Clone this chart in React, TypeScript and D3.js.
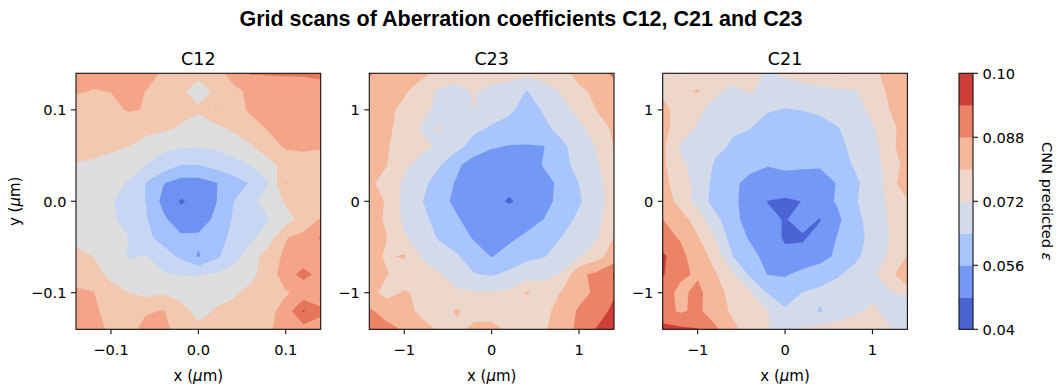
import React from 'react';
import * as d3 from 'd3';

const WIDTH = 1058;
const HEIGHT = 387;
const N = 15;

// ---- data (rows listed from top, y = +max, to bottom, y = -max; columns from x = -max to +max) ----
const c12Values: number[][] = [
  [0.0815, 0.0815, 0.0820, 0.0825, 0.08525, 0.0780, 0.0770, 0.0765, 0.0770, 0.0830, 0.0853, 0.0854, 0.0856, 0.0856, 0.0860],
  [0.0805, 0.07975, 0.0801, 0.0815, 0.0799, 0.0765, 0.0760, 0.0725, 0.0760, 0.0780, 0.0815, 0.0820, 0.0820, 0.0825, 0.0830],
  [0.0770, 0.0775, 0.0785, 0.0805, 0.07975, 0.0765, 0.0765, 0.0760, 0.08025, 0.0775, 0.0810, 0.0810, 0.0815, 0.0815, 0.0820],
  [0.0765, 0.0765, 0.0765, 0.0760, 0.0765, 0.0760, 0.0745, 0.0715, 0.0735, 0.0760, 0.0775, 0.0805, 0.0810, 0.0815, 0.0815],
  [0.0765, 0.0760, 0.0755, 0.0751, 0.0730, 0.0710, 0.0705, 0.07025, 0.07075, 0.0720, 0.0745, 0.0775, 0.08075, 0.0810, 0.0805],
  [0.07475, 0.0745, 0.0740, 0.0715, 0.0701, 0.0680, 0.0651, 0.0651, 0.0670, 0.0685, 0.0701, 0.0735, 0.0765, 0.0775, 0.0775],
  [0.0725, 0.0720, 0.0710, 0.06975, 0.06475, 0.06025, 0.0580, 0.0580, 0.05975, 0.0625, 0.0655, 0.06975, 0.08025, 0.0770, 0.0765],
  [0.0720, 0.0715, 0.0705, 0.0680, 0.0649, 0.0585, 0.0545, 0.0565, 0.05975, 0.0649, 0.0685, 0.0725, 0.0755, 0.0760, 0.0760],
  [0.0715, 0.0710, 0.0705, 0.0690, 0.0655, 0.0610, 0.0570, 0.0575, 0.0610, 0.0655, 0.0680, 0.06975, 0.0730, 0.0770, 0.0805],
  [0.0735, 0.0715, 0.0710, 0.0701, 0.0665, 0.0630, 0.0610, 0.0610, 0.0625, 0.0665, 0.0690, 0.0725, 0.07975, 0.0815, 0.0855],
  [0.0765, 0.0749, 0.0730, 0.0695, 0.07025, 0.0675, 0.0640, 0.0595, 0.0640, 0.0680, 0.0725, 0.0775, 0.0810, 0.0820, 0.0825],
  [0.0775, 0.0765, 0.0740, 0.0720, 0.0710, 0.0705, 0.06975, 0.06975, 0.0705, 0.0720, 0.0740, 0.0770, 0.0830, 0.0865, 0.0835],
  [0.0810, 0.08025, 0.0765, 0.0751, 0.0735, 0.0745, 0.0730, 0.0720, 0.0730, 0.0745, 0.0760, 0.0775, 0.0795, 0.0815, 0.0820],
  [0.0820, 0.0810, 0.0780, 0.0770, 0.0795, 0.08025, 0.0770, 0.0730, 0.0755, 0.0760, 0.0770, 0.0785, 0.0820, 0.0905, 0.0860],
  [0.0825, 0.0820, 0.0790, 0.0785, 0.0815, 0.0810, 0.0785, 0.0765, 0.0765, 0.0770, 0.0780, 0.0795, 0.0815, 0.0830, 0.0830],
];

const c23Values: number[][] = [
  [0.0892, 0.0840, 0.0824, 0.0816, 0.0784, 0.0760, 0.0752, 0.0768, 0.0752, 0.0744, 0.0760, 0.0776, 0.0824, 0.0848, 0.0898],
  [0.0832, 0.0824, 0.0808, 0.0768, 0.0704, 0.0688, 0.0728, 0.0688, 0.0680, 0.0636, 0.0680, 0.0728, 0.0784, 0.0816, 0.0840],
  [0.0824, 0.0816, 0.0784, 0.0744, 0.0696, 0.0680, 0.07216, 0.0672, 0.0656, 0.0608, 0.0648, 0.0688, 0.0744, 0.08016, 0.0824],
  [0.0824, 0.0816, 0.0768, 0.0712, 0.0724, 0.0688, 0.0656, 0.0632, 0.0608, 0.0592, 0.0624, 0.0664, 0.0704, 0.0752, 0.0816],
  [0.0816, 0.0808, 0.0760, 0.0744, 0.0704, 0.0664, 0.0608, 0.0568, 0.0556, 0.0556, 0.05584, 0.0624, 0.0672, 0.0724, 0.0804],
  [0.0808, 0.08016, 0.0736, 0.0688, 0.0648, 0.0576, 0.0520, 0.0512, 0.0504, 0.0512, 0.0568, 0.0608, 0.0672, 0.0712, 0.0792],
  [0.0808, 0.0784, 0.0704, 0.0664, 0.0600, 0.0552, 0.0512, 0.0504, 0.0504, 0.0504, 0.0528, 0.0584, 0.06416, 0.0688, 0.0768],
  [0.0883, 0.0784, 0.0696, 0.0644, 0.0584, 0.0544, 0.0512, 0.0504, 0.0472, 0.0504, 0.0536, 0.0584, 0.0632, 0.0680, 0.0768],
  [0.0824, 0.0792, 0.0704, 0.0664, 0.0608, 0.0568, 0.0528, 0.0520, 0.0528, 0.0528, 0.05616, 0.0608, 0.0656, 0.0696, 0.0776],
  [0.0883, 0.08016, 0.0728, 0.0680, 0.0632, 0.0600, 0.0552, 0.0528, 0.0544, 0.0576, 0.0608, 0.06416, 0.0680, 0.0712, 0.0804],
  [0.0824, 0.0792, 0.0808, 0.0716, 0.0680, 0.0648, 0.0600, 0.0556, 0.0592, 0.0624, 0.0636, 0.0672, 0.0712, 0.0768, 0.0840],
  [0.0832, 0.0804, 0.0760, 0.0736, 0.0728, 0.0680, 0.0644, 0.0632, 0.0656, 0.0680, 0.0696, 0.0728, 0.0864, 0.0898, 0.0943],
  [0.0824, 0.0776, 0.0808, 0.0784, 0.0752, 0.0736, 0.0724, 0.0728, 0.0736, 0.0808, 0.0768, 0.0804, 0.0848, 0.0898, 0.0934],
  [0.0892, 0.0848, 0.0824, 0.0784, 0.0768, 0.0808, 0.0776, 0.0768, 0.0760, 0.0760, 0.0784, 0.0824, 0.0892, 0.0916, 0.0952],
  [0.0928, 0.0904, 0.0872, 0.0824, 0.0792, 0.0784, 0.0816, 0.0824, 0.0784, 0.0768, 0.0792, 0.0840, 0.0898, 0.0943, 0.0958],
];

const c21Values: number[][] = [
  [0.0760, 0.0712, 0.0744, 0.0760, 0.0760, 0.0744, 0.0712, 0.0736, 0.0752, 0.0776, 0.0804, 0.0792, 0.0784, 0.0824, 0.0840],
  [0.0784, 0.0784, 0.0808, 0.0736, 0.0696, 0.0728, 0.0688, 0.0680, 0.0688, 0.0696, 0.0704, 0.0712, 0.0752, 0.0816, 0.0848],
  [0.0824, 0.0768, 0.0736, 0.0688, 0.0672, 0.0664, 0.0648, 0.0636, 0.06416, 0.0656, 0.0672, 0.0696, 0.0736, 0.08016, 0.0840],
  [0.0832, 0.0752, 0.0712, 0.0672, 0.0648, 0.06416, 0.0600, 0.0592, 0.0600, 0.0608, 0.0636, 0.0672, 0.0712, 0.0776, 0.0840],
  [0.0816, 0.0712, 0.0680, 0.0656, 0.0632, 0.0608, 0.0592, 0.0584, 0.0584, 0.0592, 0.0624, 0.0656, 0.0696, 0.0760, 0.0886],
  [0.0816, 0.0736, 0.0688, 0.0632, 0.0608, 0.0584, 0.0564, 0.0568, 0.0568, 0.0568, 0.0608, 0.0648, 0.0688, 0.0752, 0.0832],
  [0.0824, 0.0760, 0.0696, 0.0616, 0.0576, 0.0536, 0.0528, 0.0544, 0.0536, 0.0528, 0.0564, 0.0624, 0.0680, 0.0744, 0.0883],
  [0.0840, 0.0776, 0.0688, 0.0608, 0.0576, 0.0528, 0.04784, 0.0464, 0.04816, 0.0528, 0.0568, 0.0632, 0.0680, 0.0736, 0.0792],
  [0.08812, 0.0832, 0.0768, 0.0664, 0.0584, 0.0528, 0.0496, 0.0476, 0.0504, 0.04768, 0.0544, 0.0616, 0.0672, 0.0728, 0.0784],
  [0.0898, 0.0876, 0.0808, 0.07216, 0.0600, 0.0552, 0.0512, 0.0472, 0.0472, 0.0504, 0.0564, 0.0608, 0.0664, 0.0724, 0.0784],
  [0.0952, 0.0898, 0.0848, 0.0768, 0.06416, 0.0584, 0.0536, 0.0496, 0.0504, 0.0528, 0.0576, 0.0624, 0.0672, 0.0736, 0.0804],
  [0.0946, 0.0892, 0.0872, 0.0808, 0.0736, 0.0624, 0.05584, 0.0552, 0.0584, 0.0608, 0.0632, 0.0664, 0.0704, 0.0768, 0.0883],
  [0.0910, 0.0864, 0.0898, 0.0840, 0.0768, 0.0728, 0.0636, 0.0608, 0.06416, 0.0656, 0.0672, 0.0688, 0.0712, 0.0712, 0.0744],
  [0.0904, 0.0872, 0.0892, 0.0848, 0.0784, 0.0744, 0.0724, 0.0648, 0.0672, 0.0634, 0.0672, 0.0712, 0.0728, 0.0704, 0.0636],
  [0.0958, 0.0952, 0.0943, 0.0892, 0.0824, 0.0752, 0.0728, 0.0664, 0.0728, 0.0744, 0.0752, 0.0752, 0.0744, 0.0724, 0.0696],
];

const c12Extent = [-0.14, 0.14];
const c2xExtent = [-1.4, 1.4];
const c12Ticks = [-0.1, 0, 0.1];
const c12TickLabels = ['\u22120.1', '0.0', '0.1'];
const c2xTicks = [-1, 0, 1];
const c2xTickLabels = ['\u22121', '0', '1'];

const c12Levels = [0.05, 0.055, 0.06, 0.065, 0.07, 0.075, 0.08, 0.085, 0.09, 0.095];
const sharedLevels = [0.04, 0.048, 0.056, 0.064, 0.072, 0.08, 0.088, 0.094, 0.1];
const colorbarTicks = [0.04, 0.056, 0.072, 0.088, 0.1];
const colorbarTickLabels = ['0.04', '0.056', '0.072', '0.088', '0.10'];

const c12Colors = ['#4b65d5', '#6f92f2', '#a2c1fd', '#c6d6f3', '#dddddd', '#f3c8b1', '#f4a587', '#e6765b', '#cc3f38'];
const sharedColors = ['#4a64d6', '#7498f5', '#a8c5fd', '#d3dbea', '#edd7ca', '#f6b89b', '#ec8266', '#cf3f38'];

const panelTitles = ['C12', 'C23', 'C21'];

// ---- layout ----
const TOP = 73.3;
const PH = 256;
const PW = 244.7;
const LEFTS = [76, 369.3, 662.7];
const CB_LEFT = 959;
const CB_W = 14;
const FONT = 'DejaVu Sans, sans-serif';
const TICK_LEN = 5;

// d3.contours grid-coordinate convention (sample k sits at k + OFFSET)
const OFFSET = (() => {
  const [c] = d3.contours().size([2, 1]).thresholds([0.5])([0, 1]);
  let m = Infinity;
  for (const poly of c.coordinates) for (const ring of poly) for (const p of ring) m = Math.min(m, p[0]);
  return m - 0.5;
})();

function Panel({ idx, values, levels, colors, extent, ticks, tickLabels, title, showYLabel }: any) {
  const left = LEFTS[idx];
  const x = d3.scaleLinear().domain(extent).range([left, left + PW]);
  const y = d3.scaleLinear().domain(extent).range([TOP + PH, TOP]);
  const step = (extent[1] - extent[0]) / (N - 1);
  const bands = d3.contours().size([N, N]).thresholds(levels.slice(0, -1))(values.flat());
  const proj = d3.geoTransform({
    point(px: number, py: number) {
      (this as any).stream.point(x(extent[0] + (px - OFFSET) * step), y(extent[1] - (py - OFFSET) * step));
    },
  });
  const path = d3.geoPath(proj as any);
  const clipId = `panel-clip-${idx}`;
  const bottom = TOP + PH;
  return (
    <g>
      <defs>
        <clipPath id={clipId}>
          <rect x={left} y={TOP} width={PW} height={PH} />
        </clipPath>
      </defs>
      <g clipPath={`url(#${clipId})`}>
        {bands.map((b: any, k: number) => (
          <path key={k} d={path(b) || ''} fill={colors[k]} fillRule="evenodd" />
        ))}
      </g>
      <rect x={left} y={TOP} width={PW} height={PH} fill="none" stroke="#111" strokeWidth={1.1} />
      {ticks.map((t: number, i: number) => (
        <g key={`x${i}`}>
          <line x1={x(t)} x2={x(t)} y1={bottom} y2={bottom + TICK_LEN} stroke="#111" strokeWidth={1.1} />
          <text x={x(t)} y={bottom + 26} textAnchor="middle" fontFamily={FONT} fontSize={14.6} fill="#000">
            {tickLabels[i]}
          </text>
        </g>
      ))}
      {ticks.map((t: number, i: number) => (
        <g key={`y${i}`}>
          <line x1={left - TICK_LEN} x2={left} y1={y(t)} y2={y(t)} stroke="#111" strokeWidth={1.1} />
          <text x={left - 9.5} y={y(t)} dy="0.36em" textAnchor="end" fontFamily={FONT} fontSize={14.6} fill="#000">
            {tickLabels[i]}
          </text>
        </g>
      ))}
      <text x={left + PW / 2} y={TOP - 8.8} textAnchor="middle" fontFamily={FONT} fontSize={17.5} fill="#000">
        {title}
      </text>
      <text x={left + PW / 2} y={381} textAnchor="middle" fontFamily={FONT} fontSize={15} fill="#000">
        x (<tspan fontStyle="italic">μ</tspan>m)
      </text>
      {showYLabel && (
        <text
          transform={`translate(20, ${TOP + PH / 2}) rotate(-90)`}
          textAnchor="middle"
          fontFamily={FONT}
          fontSize={15}
          fill="#000"
        >
          y (<tspan fontStyle="italic">μ</tspan>m)
        </text>
      )}
    </g>
  );
}

function Colorbar() {
  const nb = sharedColors.length;
  const bandY = d3.scaleLinear().domain([0, nb]).range([TOP + PH, TOP]);
  const valueY = d3.scaleLinear().domain(sharedLevels).range(sharedLevels.map((_, i) => bandY(i)));
  const right = CB_LEFT + CB_W;
  return (
    <g>
      {sharedColors.map((c, k) => (
        <rect key={k} x={CB_LEFT} y={bandY(k + 1)} width={CB_W} height={bandY(k) - bandY(k + 1) + 0.3} fill={c} />
      ))}
      <rect x={CB_LEFT} y={TOP} width={CB_W} height={PH} fill="none" stroke="#111" strokeWidth={1.1} />
      {colorbarTicks.map((t, i) => (
        <g key={i}>
          <line x1={right} x2={right + TICK_LEN} y1={valueY(t)} y2={valueY(t)} stroke="#111" strokeWidth={1.1} />
          <text x={right + 9.5} y={valueY(t)} dy="0.36em" fontFamily={FONT} fontSize={14.6} fill="#000">
            {colorbarTickLabels[i]}
          </text>
        </g>
      ))}
      <text
        transform={`translate(1042, ${TOP + PH / 2}) rotate(90)`}
        textAnchor="middle"
        fontFamily={FONT}
        fontSize={14.6}
        fill="#000"
      >
        CNN predicted <tspan fontStyle="italic">ε</tspan>
      </text>
    </g>
  );
}

export default function App() {
  return (
    <svg width={WIDTH} height={HEIGHT} style={{ display: 'block', position: 'absolute', left: 0, top: 0, background: '#fff' }}>
      <rect x={0} y={0} width={WIDTH} height={HEIGHT} fill="#fff" />
      <text
        x={521}
        y={26}
        textAnchor="middle"
        fontFamily="Liberation Sans, Arial, sans-serif"
        fontWeight="bold"
        fontSize={21.5}
        fill="#000"
      >
        Grid scans of Aberration coefficients C12, C21 and C23
      </text>
      <Panel idx={0} values={c12Values} levels={c12Levels} colors={c12Colors} extent={c12Extent} ticks={c12Ticks} tickLabels={c12TickLabels} title={panelTitles[0]} showYLabel />
      <Panel idx={1} values={c23Values} levels={sharedLevels} colors={sharedColors} extent={c2xExtent} ticks={c2xTicks} tickLabels={c2xTickLabels} title={panelTitles[1]} showYLabel={false} />
      <Panel idx={2} values={c21Values} levels={sharedLevels} colors={sharedColors} extent={c2xExtent} ticks={c2xTicks} tickLabels={c2xTickLabels} title={panelTitles[2]} showYLabel={false} />
      <Colorbar />
    </svg>
  );
}
